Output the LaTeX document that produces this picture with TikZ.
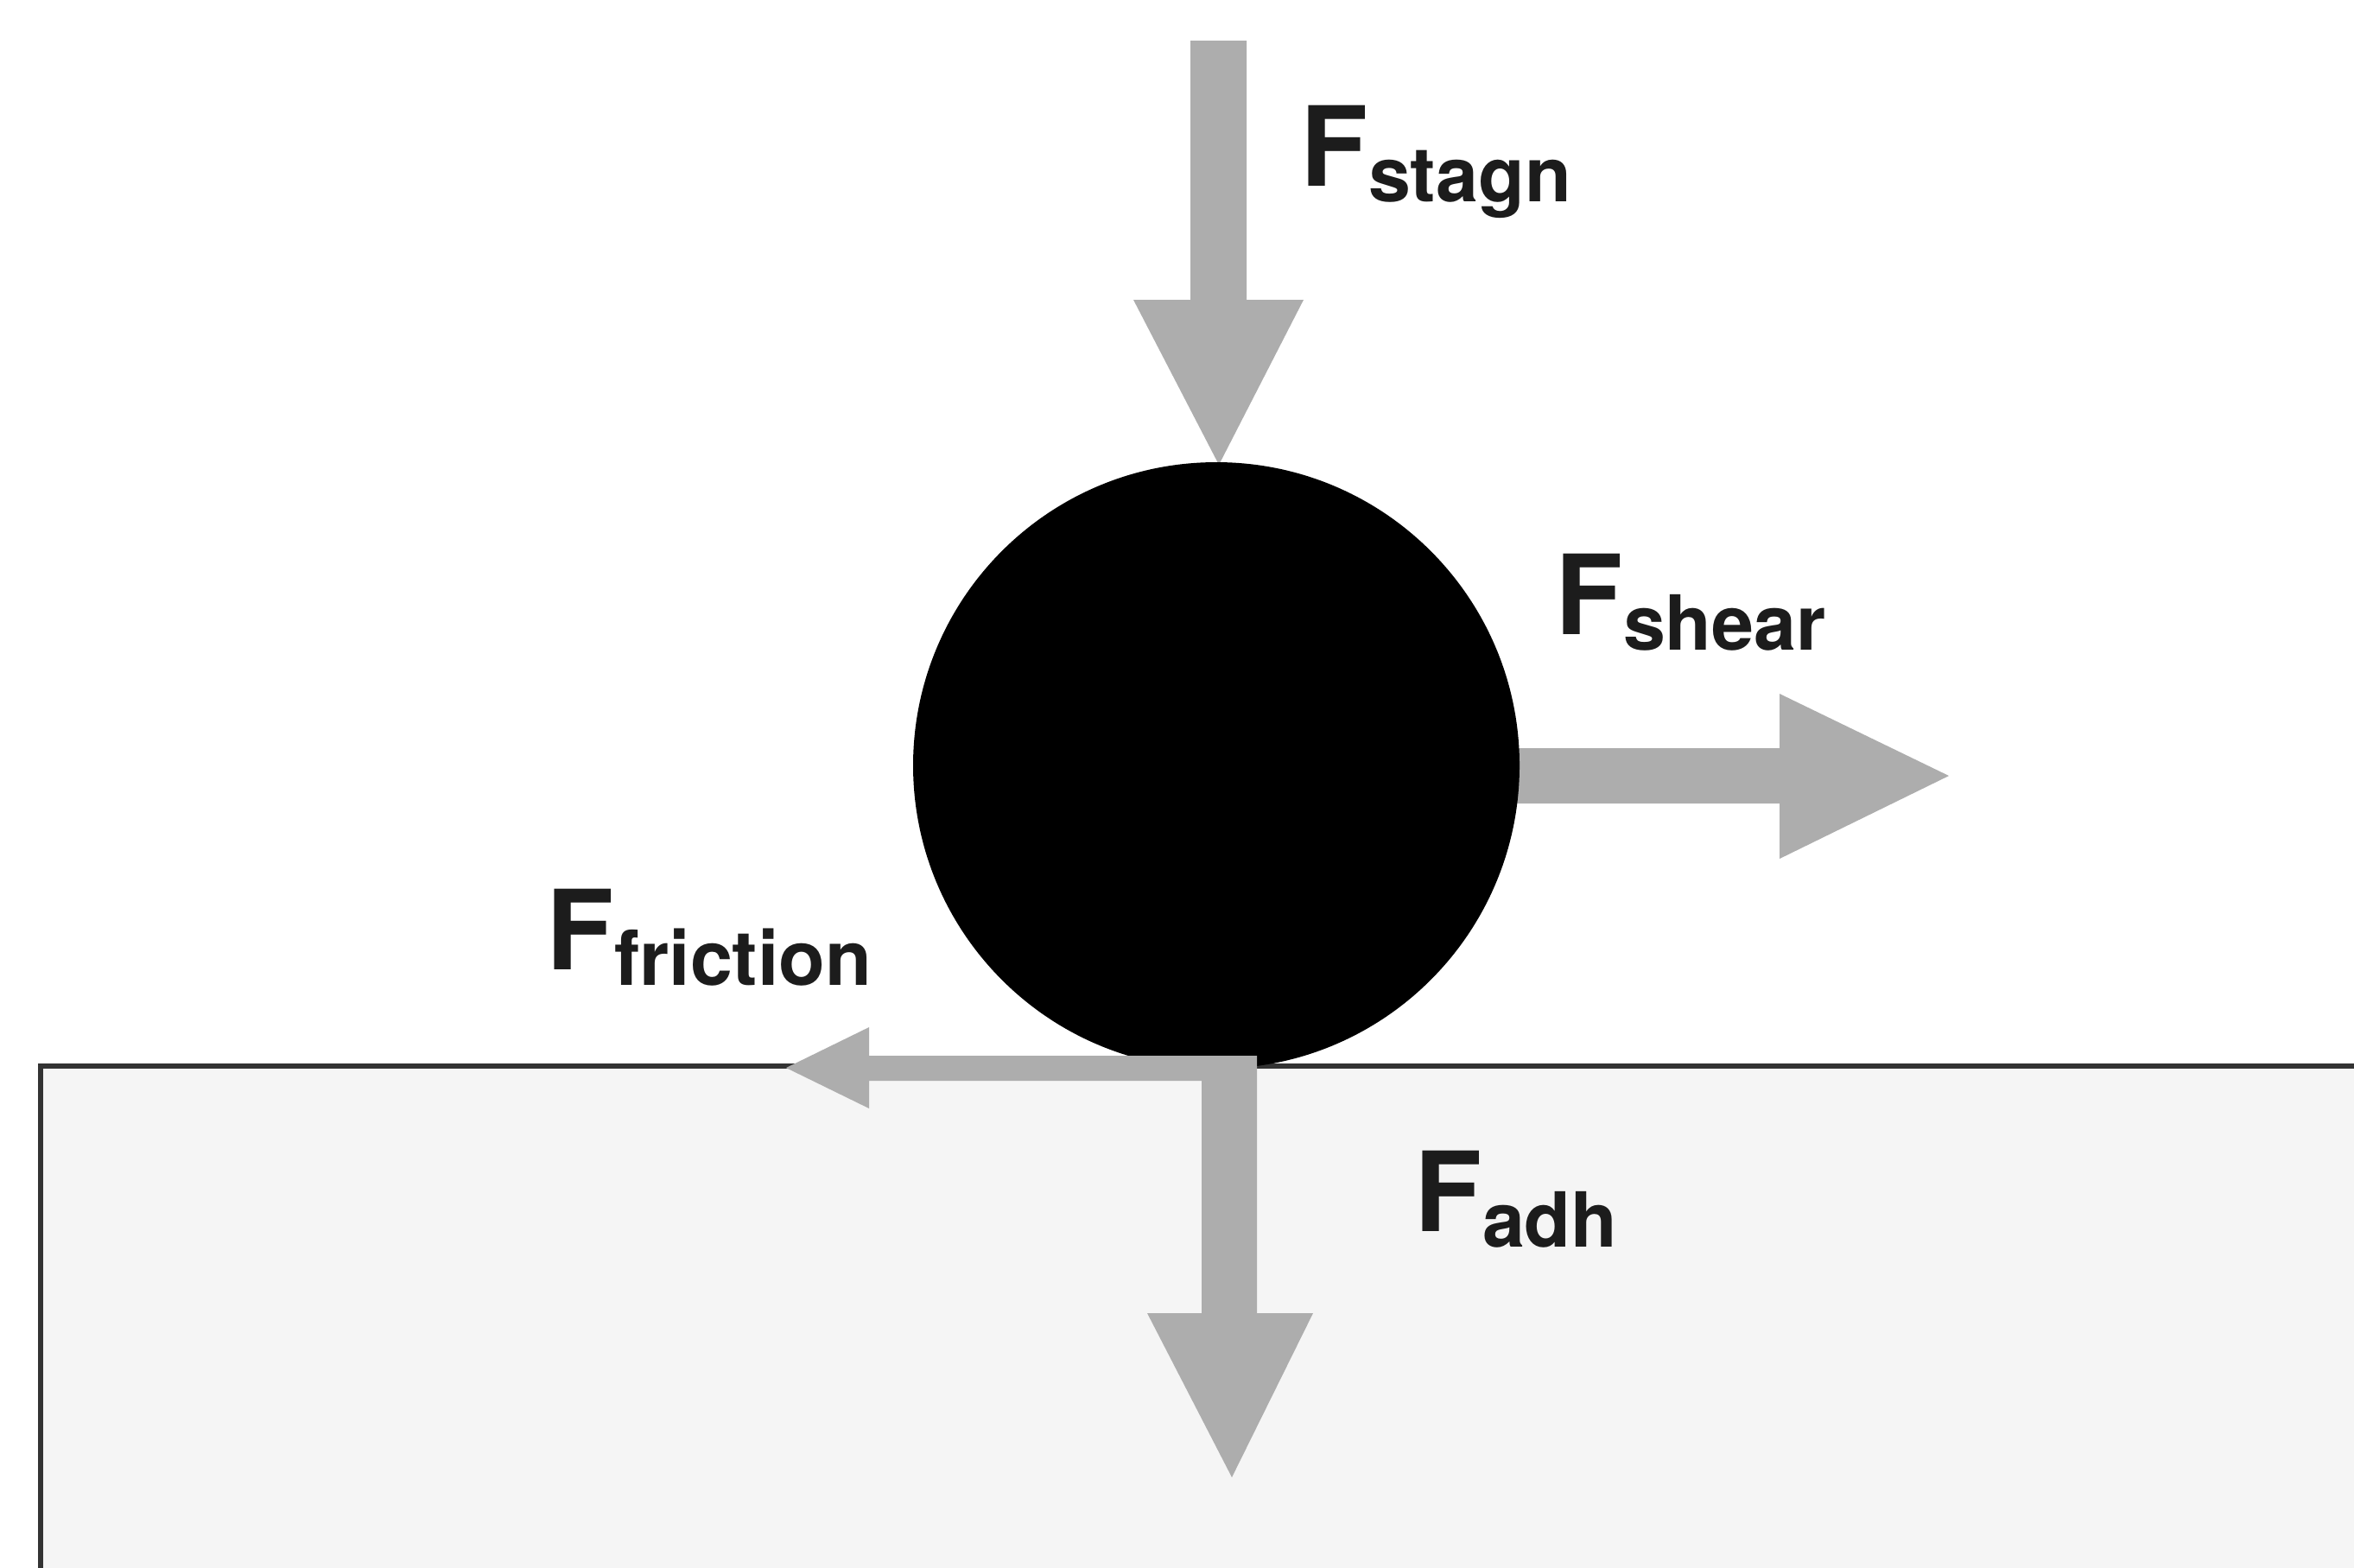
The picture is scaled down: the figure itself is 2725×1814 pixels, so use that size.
\documentclass[tikz,border=0pt]{standalone}
\usepackage{fontspec}
\setmainfont{TeX Gyre Heros}
\definecolor{arrowgray}{HTML}{ADADAD}
\definecolor{groundfill}{HTML}{F5F5F5}
\definecolor{groundline}{HTML}{333333}
\definecolor{labelink}{HTML}{1C1C1C}
\newcommand{\forcelabel}[1]{F\raisebox{-4.5pt}{\fontsize{22}{22}\selectfont #1}}
\begin{document}
\begin{tikzpicture}[x=0.25pt,y=-0.25pt,
  force/.style={fill=arrowgray},
  lbl/.style={anchor=base west, inner sep=0pt, text=labelink,
    font=\bfseries\fontsize{32}{32}\selectfont},
  particle/.style={circle, fill=black, inner sep=0pt, minimum size=175.5pt}]
\clip (0,0) rectangle (2725,1814);
\fill[white] (0,0) rectangle (2725,1814);
% substrate
\fill[groundfill] (47,1234) rectangle (2760,1850);
\draw[line width=1.3pt, groundline] (2760,1234) -- (47,1234) -- (47,1850);
% stagnation force
\fill[force] (1378,47) -- (1443,47) -- (1443,347) -- (1509,347) -- (1411,538)
  -- (1312,347) -- (1378,347) -- cycle;
% shear force
\fill[force] (1740,866) -- (2060,866) -- (2060,803) -- (2256,898) -- (2060,994)
  -- (2060,930) -- (1740,930) -- cycle;
% particle
\node[particle] (p) at (1408,886) {};
% friction + adhesion
\fill[force] (1455,1222) -- (1455,1520) -- (1520,1520) -- (1426,1710) -- (1328,1520)
  -- (1391,1520) -- (1391,1251) -- (1006,1251) -- (1006,1283) -- (910,1236)
  -- (1006,1189) -- (1006,1222) -- cycle;
% labels
\node[lbl] (lstagn) at (1505,215) {\forcelabel{stagn}};
\node[lbl] (lshear) at (1800,734) {\forcelabel{shear}};
\node[lbl] (lfric) at (632,1122) {\forcelabel{friction}};
\node[lbl] (ladh) at (1637,1425) {\forcelabel{adh}};
\end{tikzpicture}
\end{document}
